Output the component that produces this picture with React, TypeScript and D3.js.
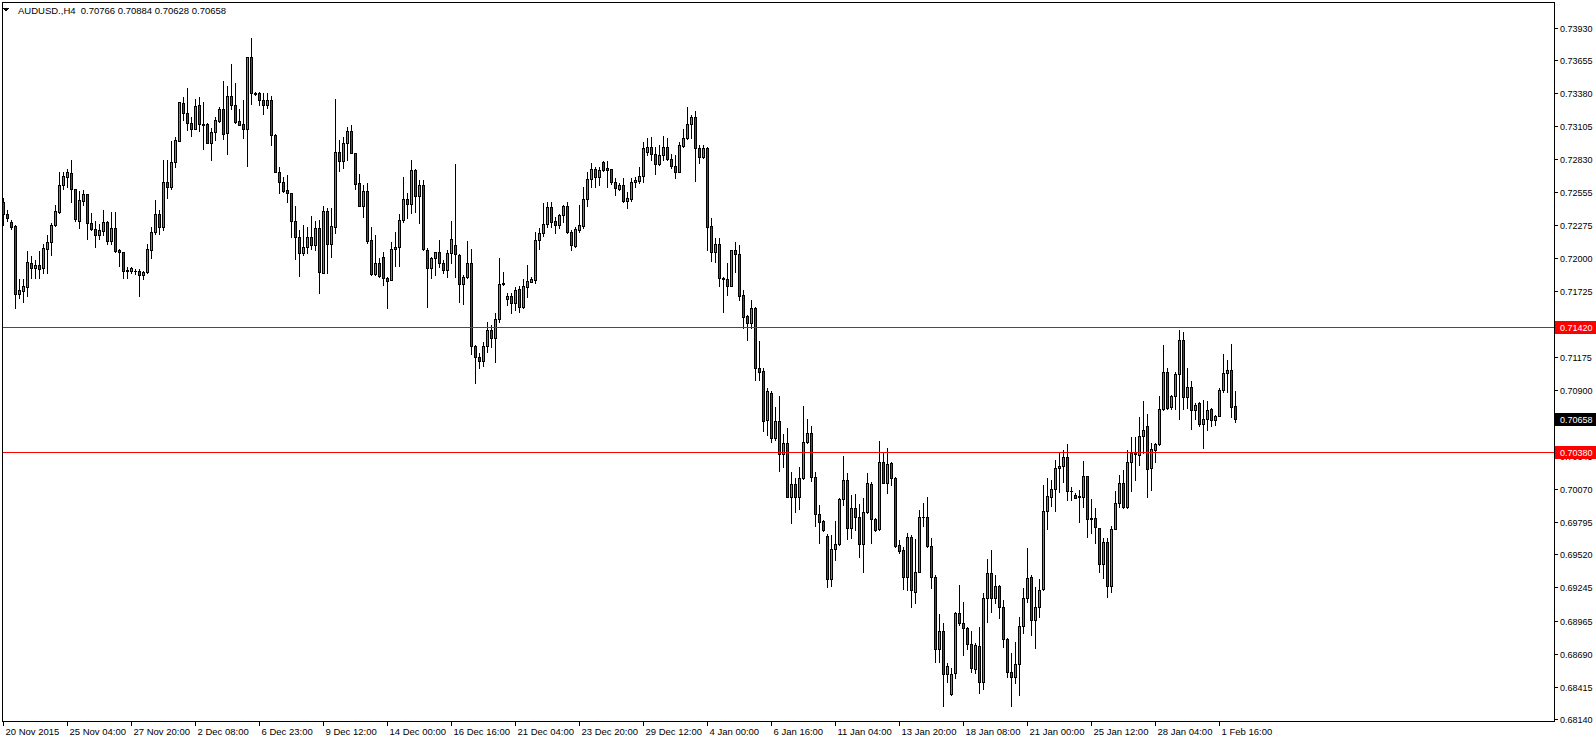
import React from "react";
import * as d3 from "d3";

// AUDUSD., H4 bars (bar 0 = leftmost)
const opens = [
  0.72473, 0.72367, 0.72303, 0.72269, 0.71700, 0.71728, 0.71762, 0.71957, 0.71920, 0.71943,
  0.71915, 0.72077, 0.72132, 0.72275, 0.72386, 0.72609, 0.72682, 0.72713, 0.72576, 0.72314,
  0.72481, 0.72534, 0.72291, 0.72241, 0.72191, 0.72230, 0.72303, 0.72146, 0.72252, 0.72068,
  0.72049, 0.71901, 0.71895, 0.71895, 0.71893, 0.71856, 0.71884, 0.72068, 0.72216, 0.72369,
  0.72263, 0.72634, 0.72598, 0.72802, 0.72977, 0.73295, 0.73212, 0.73134, 0.73083, 0.73279,
  0.73120, 0.73120, 0.72966, 0.73053, 0.73148, 0.73248, 0.73050, 0.73357, 0.73279, 0.73148,
  0.73120, 0.73083, 0.73680, 0.73379, 0.73380, 0.73326, 0.73279, 0.73320, 0.73028, 0.72724,
  0.72634, 0.72568, 0.72542, 0.72314, 0.72180, 0.72040, 0.72091, 0.72180, 0.72110, 0.72255,
  0.71879, 0.72395, 0.72116, 0.72264, 0.72888, 0.72816, 0.72961, 0.73061, 0.72877, 0.72626,
  0.72439, 0.72562, 0.72152, 0.71865, 0.71957, 0.72007, 0.71831, 0.71817, 0.72074, 0.72091,
  0.72319, 0.72495, 0.72450, 0.72738, 0.72520, 0.72612, 0.72068, 0.71915, 0.71999, 0.72049,
  0.71962, 0.71901, 0.72040, 0.72107, 0.72024, 0.71781, 0.71845, 0.71957, 0.71268, 0.71170,
  0.71142, 0.71268, 0.71399, 0.71335, 0.71488, 0.71785, 0.71656, 0.71683, 0.71628, 0.71739,
  0.71594, 0.71762, 0.71803, 0.71817, 0.72152, 0.72208, 0.72286, 0.72425, 0.72314, 0.72277,
  0.72361, 0.72436, 0.72222, 0.72100, 0.72236, 0.72269, 0.72492, 0.72659, 0.72743, 0.72682,
  0.72802, 0.72752, 0.72746, 0.72634, 0.72578, 0.72612, 0.72478, 0.72495, 0.72638, 0.72648,
  0.72687, 0.72891, 0.72927, 0.72869, 0.72790, 0.72860, 0.72927, 0.72827, 0.72774, 0.72724,
  0.72941, 0.73002, 0.73120, 0.73181, 0.72919, 0.72844, 0.72924, 0.72269, 0.72054, 0.72116,
  0.71837, 0.71823, 0.71770, 0.72068, 0.72032, 0.71692, 0.71516, 0.71455, 0.71580, 0.71078,
  0.71056, 0.70646, 0.70869, 0.70493, 0.70638, 0.70359, 0.70451, 0.70004, 0.70108, 0.69999,
  0.70158, 0.70459, 0.70534, 0.70166, 0.69857, 0.69801, 0.69678, 0.69313, 0.69564, 0.69606,
  0.69982, 0.70144, 0.69740, 0.69907, 0.69832, 0.69606, 0.69879, 0.70108, 0.69815, 0.69731,
  0.70297, 0.70122, 0.70283, 0.70158, 0.69600, 0.69558, 0.69330, 0.69664, 0.69209, 0.69376,
  0.69831, 0.69831, 0.69594, 0.69329, 0.68726, 0.68880, 0.68517, 0.68353, 0.68526, 0.69033,
  0.68950, 0.68902, 0.68768, 0.68562, 0.68754, 0.68456, 0.69153, 0.69362, 0.69153, 0.69256,
  0.69078, 0.68810, 0.68534, 0.68498, 0.68601, 0.68922, 0.69153, 0.69334, 0.68972, 0.69078,
  0.69229, 0.69884, 0.70004, 0.70065, 0.70241, 0.70260, 0.70338, 0.70054, 0.70018, 0.70006,
  0.70000, 0.70177, 0.69823, 0.69823, 0.69739, 0.69438, 0.69622, 0.69259, 0.69731, 0.69948,
  0.70115, 0.69920, 0.70291, 0.70360, 0.70352, 0.70514, 0.70595, 0.70241, 0.70394, 0.70442,
  0.70734, 0.71050, 0.70751, 0.70846, 0.71030, 0.71315, 0.70835, 0.70919, 0.70729, 0.70785,
  0.70609, 0.70651, 0.70734, 0.70645, 0.70682, 0.70896, 0.71039, 0.71064, 0.70766,
];

const highs = [
  0.72501, 0.72403, 0.72319, 0.72275, 0.71823, 0.71823, 0.72060, 0.72018, 0.71985, 0.72060,
  0.72116, 0.72194, 0.72297, 0.72445, 0.72721, 0.72724, 0.72743, 0.72821, 0.72580, 0.72565,
  0.72570, 0.72538, 0.72375, 0.72311, 0.72286, 0.72403, 0.72311, 0.72389, 0.72389, 0.72079,
  0.72052, 0.71929, 0.71929, 0.71912, 0.71907, 0.71895, 0.72119, 0.72264, 0.72487, 0.72403,
  0.72821, 0.72821, 0.72980, 0.73017, 0.73310, 0.73351, 0.73421, 0.73178, 0.73329, 0.73351,
  0.73307, 0.73128, 0.73092, 0.73184, 0.73262, 0.73482, 0.73440, 0.73625, 0.73463, 0.73248,
  0.73323, 0.73682, 0.73842, 0.73393, 0.73393, 0.73385, 0.73385, 0.73357, 0.73036, 0.72766,
  0.72682, 0.72696, 0.72545, 0.72436, 0.72236, 0.72277, 0.72264, 0.72353, 0.72314, 0.72319,
  0.72436, 0.72417, 0.72417, 0.73332, 0.72989, 0.73017, 0.73100, 0.73117, 0.72880, 0.72704,
  0.72612, 0.72626, 0.72264, 0.72194, 0.71999, 0.72054, 0.71845, 0.72138, 0.72222, 0.72367,
  0.72676, 0.72542, 0.72821, 0.72746, 0.72654, 0.72654, 0.72082, 0.72013, 0.72052, 0.72152,
  0.71985, 0.72068, 0.72314, 0.72788, 0.72032, 0.71859, 0.72146, 0.72077, 0.71270, 0.71204,
  0.71301, 0.71469, 0.71441, 0.71538, 0.71999, 0.71887, 0.71711, 0.71711, 0.71762, 0.71767,
  0.71823, 0.71943, 0.71845, 0.72222, 0.72249, 0.72464, 0.72473, 0.72473, 0.72347, 0.72369,
  0.72445, 0.72473, 0.72236, 0.72258, 0.72445, 0.72593, 0.72724, 0.72793, 0.72766, 0.72760,
  0.72813, 0.72813, 0.72749, 0.72668, 0.72626, 0.72673, 0.72551, 0.72673, 0.72682, 0.72765,
  0.72975, 0.73002, 0.73016, 0.72933, 0.72947, 0.73019, 0.73002, 0.72869, 0.72863, 0.72975,
  0.73078, 0.73262, 0.73198, 0.73231, 0.72947, 0.72947, 0.72933, 0.72333, 0.72166, 0.72166,
  0.71845, 0.71957, 0.72072, 0.72138, 0.72110, 0.71733, 0.71524, 0.71650, 0.71594, 0.71307,
  0.71078, 0.70911, 0.70889, 0.70758, 0.70847, 0.70526, 0.70582, 0.70208, 0.70158, 0.70255,
  0.70763, 0.70654, 0.70596, 0.70214, 0.69935, 0.69809, 0.69689, 0.69684, 0.69801, 0.69996,
  0.70345, 0.70200, 0.70018, 0.70027, 0.69943, 0.69991, 0.70200, 0.70130, 0.69829, 0.70470,
  0.70375, 0.70409, 0.70292, 0.70172, 0.69642, 0.69586, 0.69698, 0.69683, 0.69650, 0.69892,
  0.69948, 0.69998, 0.69655, 0.69348, 0.69022, 0.68950, 0.68615, 0.68573, 0.69042, 0.69265,
  0.69125, 0.68916, 0.68883, 0.68777, 0.68916, 0.69200, 0.69482, 0.69558, 0.69348, 0.69265,
  0.69139, 0.68819, 0.68699, 0.68791, 0.69000, 0.69242, 0.69572, 0.69348, 0.69251, 0.69312,
  0.70101, 0.70163, 0.70143, 0.70311, 0.70380, 0.70394, 0.70444, 0.70087, 0.70032, 0.70060,
  0.70305, 0.70180, 0.69982, 0.69912, 0.69742, 0.69655, 0.69655, 0.69758, 0.70054, 0.70185,
  0.70227, 0.70394, 0.70500, 0.70506, 0.70668, 0.70807, 0.70695, 0.70450, 0.70456, 0.70846,
  0.71273, 0.71078, 0.70854, 0.71050, 0.71398, 0.71384, 0.71078, 0.70974, 0.70785, 0.70799,
  0.70813, 0.70807, 0.70743, 0.70687, 0.70910, 0.71197, 0.71147, 0.71281, 0.70884,
];

const lows = [
  0.72277, 0.72314, 0.72241, 0.71580, 0.71664, 0.71636, 0.71686, 0.71831, 0.71831, 0.71831,
  0.71873, 0.71879, 0.72029, 0.72269, 0.72381, 0.72579, 0.72598, 0.72473, 0.72311, 0.72255,
  0.72445, 0.72158, 0.72236, 0.72091, 0.72158, 0.72194, 0.72118, 0.72118, 0.72054, 0.71937,
  0.71831, 0.71831, 0.71873, 0.71867, 0.71686, 0.71823, 0.71873, 0.72000, 0.72202, 0.72200,
  0.72236, 0.72501, 0.72576, 0.72760, 0.72977, 0.73156, 0.73072, 0.73022, 0.73080, 0.73067,
  0.72916, 0.72966, 0.72821, 0.72989, 0.73142, 0.73000, 0.72871, 0.73245, 0.73128, 0.73117,
  0.73008, 0.72771, 0.73290, 0.73362, 0.73281, 0.73203, 0.73260, 0.72947, 0.72720, 0.72548,
  0.72556, 0.72473, 0.72180, 0.71990, 0.71854, 0.72027, 0.72040, 0.72074, 0.72068, 0.71706,
  0.71879, 0.71879, 0.72012, 0.72208, 0.72732, 0.72757, 0.72821, 0.72877, 0.72581, 0.72439,
  0.72347, 0.72130, 0.71860, 0.71860, 0.71845, 0.71775, 0.71580, 0.71817, 0.71934, 0.71934,
  0.72305, 0.72333, 0.72375, 0.72389, 0.72291, 0.72068, 0.71589, 0.71831, 0.71859, 0.71923,
  0.71879, 0.71845, 0.71957, 0.71845, 0.71636, 0.71614, 0.71831, 0.71195, 0.70953, 0.71078,
  0.71098, 0.71218, 0.71260, 0.71134, 0.71469, 0.71775, 0.71608, 0.71538, 0.71566, 0.71552,
  0.71580, 0.71678, 0.71803, 0.71795, 0.72074, 0.72185, 0.72258, 0.72264, 0.72213, 0.72250,
  0.72305, 0.72213, 0.72068, 0.72091, 0.72222, 0.72250, 0.72436, 0.72593, 0.72593, 0.72612,
  0.72729, 0.72598, 0.72620, 0.72528, 0.72570, 0.72467, 0.72422, 0.72478, 0.72598, 0.72626,
  0.72634, 0.72863, 0.72821, 0.72701, 0.72779, 0.72821, 0.72821, 0.72757, 0.72673, 0.72718,
  0.72933, 0.72997, 0.73008, 0.72648, 0.72793, 0.72841, 0.72068, 0.71976, 0.71971, 0.71770,
  0.71547, 0.71692, 0.71766, 0.71887, 0.71650, 0.71413, 0.71315, 0.71413, 0.70981, 0.70981,
  0.70557, 0.70520, 0.70465, 0.70479, 0.70222, 0.70255, 0.70000, 0.69787, 0.69873, 0.69901,
  0.70152, 0.70451, 0.70138, 0.69759, 0.69614, 0.69720, 0.69251, 0.69257, 0.69475, 0.69600,
  0.69935, 0.69650, 0.69656, 0.69726, 0.69503, 0.69377, 0.69865, 0.69614, 0.69720, 0.69729,
  0.70116, 0.70038, 0.70102, 0.69586, 0.69530, 0.69229, 0.69224, 0.69084, 0.69111, 0.69376,
  0.69758, 0.69586, 0.69237, 0.68623, 0.68623, 0.68252, 0.68456, 0.68344, 0.68484, 0.68930,
  0.68679, 0.68726, 0.68540, 0.68526, 0.68364, 0.68392, 0.68958, 0.69042, 0.69117, 0.68986,
  0.68743, 0.68492, 0.68255, 0.68442, 0.68344, 0.68860, 0.69125, 0.68846, 0.68735, 0.69000,
  0.69223, 0.69731, 0.69926, 0.69887, 0.70046, 0.70129, 0.69976, 0.69976, 0.69990, 0.69795,
  0.69920, 0.69664, 0.69697, 0.69613, 0.69376, 0.69321, 0.69167, 0.69203, 0.69731, 0.69920,
  0.69906, 0.69906, 0.70054, 0.70143, 0.70269, 0.70366, 0.69998, 0.70060, 0.70297, 0.70436,
  0.70729, 0.70734, 0.70734, 0.70734, 0.70654, 0.70734, 0.70743, 0.70567, 0.70651, 0.70595,
  0.70408, 0.70562, 0.70598, 0.70603, 0.70679, 0.70882, 0.70882, 0.70673, 0.70628,
];

const closes = [
  0.72367, 0.72339, 0.72264, 0.71700, 0.71734, 0.71767, 0.71965, 0.71920, 0.71943, 0.71912,
  0.72082, 0.72132, 0.72275, 0.72392, 0.72609, 0.72685, 0.72718, 0.72576, 0.72330, 0.72487,
  0.72534, 0.72291, 0.72241, 0.72191, 0.72236, 0.72303, 0.72146, 0.72252, 0.72063, 0.72049,
  0.71890, 0.71890, 0.71918, 0.71890, 0.71856, 0.71884, 0.72077, 0.72219, 0.72369, 0.72263,
  0.72634, 0.72598, 0.72802, 0.72989, 0.73304, 0.73212, 0.73134, 0.73083, 0.73270, 0.73125,
  0.73118, 0.72966, 0.73053, 0.73156, 0.73248, 0.73042, 0.73357, 0.73279, 0.73142, 0.73117,
  0.73083, 0.73680, 0.73379, 0.73370, 0.73323, 0.73279, 0.73320, 0.73028, 0.72724, 0.72634,
  0.72565, 0.72542, 0.72314, 0.72174, 0.72040, 0.72091, 0.72180, 0.72110, 0.72255, 0.71887,
  0.72395, 0.72116, 0.72269, 0.72888, 0.72816, 0.72961, 0.73061, 0.72877, 0.72618, 0.72439,
  0.72562, 0.72144, 0.71865, 0.71957, 0.71854, 0.71831, 0.71812, 0.72074, 0.72091, 0.72319,
  0.72495, 0.72450, 0.72738, 0.72520, 0.72612, 0.72074, 0.71915, 0.71999, 0.72049, 0.71962,
  0.71901, 0.72040, 0.72158, 0.72032, 0.71781, 0.71845, 0.71957, 0.71268, 0.71170, 0.71142,
  0.71268, 0.71399, 0.71335, 0.71488, 0.71781, 0.71790, 0.71683, 0.71628, 0.71734, 0.71594,
  0.71767, 0.71809, 0.71823, 0.72152, 0.72208, 0.72286, 0.72425, 0.72305, 0.72277, 0.72361,
  0.72436, 0.72222, 0.72110, 0.72241, 0.72277, 0.72492, 0.72659, 0.72743, 0.72682, 0.72738,
  0.72737, 0.72740, 0.72634, 0.72584, 0.72612, 0.72478, 0.72500, 0.72640, 0.72651, 0.72687,
  0.72919, 0.72927, 0.72869, 0.72790, 0.72860, 0.72927, 0.72827, 0.72774, 0.72724, 0.72947,
  0.73002, 0.73120, 0.73181, 0.72919, 0.72849, 0.72924, 0.72263, 0.72054, 0.72116, 0.71831,
  0.71823, 0.71770, 0.72068, 0.72032, 0.71686, 0.71510, 0.71455, 0.71580, 0.71078, 0.71050,
  0.70640, 0.70889, 0.70493, 0.70638, 0.70359, 0.70451, 0.70004, 0.70108, 0.69999, 0.70158,
  0.70459, 0.70534, 0.70166, 0.69857, 0.69795, 0.69726, 0.69313, 0.69564, 0.69606, 0.69982,
  0.70144, 0.69740, 0.69907, 0.69832, 0.69606, 0.69879, 0.70116, 0.69815, 0.69726, 0.70297,
  0.70122, 0.70275, 0.70158, 0.69592, 0.69553, 0.69330, 0.69670, 0.69223, 0.69371, 0.69831,
  0.69830, 0.69594, 0.69329, 0.68726, 0.68880, 0.68517, 0.68590, 0.68517, 0.69028, 0.68950,
  0.68902, 0.68768, 0.68567, 0.68763, 0.68456, 0.69153, 0.69362, 0.69153, 0.69256, 0.69078,
  0.68810, 0.68534, 0.68498, 0.68601, 0.68922, 0.69153, 0.69326, 0.68972, 0.69078, 0.69223,
  0.69884, 0.70009, 0.70065, 0.70241, 0.70260, 0.70338, 0.70054, 0.70051, 0.69990, 0.70004,
  0.70177, 0.69817, 0.69820, 0.69747, 0.69438, 0.69622, 0.69259, 0.69731, 0.69948, 0.70115,
  0.69920, 0.70291, 0.70366, 0.70368, 0.70514, 0.70562, 0.70233, 0.70400, 0.70442, 0.70734,
  0.71044, 0.70748, 0.70846, 0.71030, 0.71315, 0.70835, 0.70919, 0.70729, 0.70771, 0.70609,
  0.70654, 0.70729, 0.70645, 0.70682, 0.70896, 0.71041, 0.71064, 0.70757, 0.70658,
];

// time labels, one every 16 bars
const timeLabels = [
  "20 Nov 2015", "25 Nov 04:00", "27 Nov 20:00", "2 Dec 08:00", "6 Dec 23:00",
  "9 Dec 12:00", "14 Dec 00:00", "16 Dec 16:00", "21 Dec 04:00", "23 Dec 20:00",
  "29 Dec 12:00", "4 Jan 00:00", "6 Jan 16:00", "11 Jan 04:00", "13 Jan 20:00",
  "18 Jan 08:00", "21 Jan 00:00", "25 Jan 12:00", "28 Jan 04:00", "1 Feb 16:00",
];
const labelStep = 16;

const priceLabels = [
  "0.73930", "0.73655", "0.73380", "0.73105", "0.72830", "0.72555", "0.72275",
  "0.72000", "0.71725", "0.71450", "0.71175", "0.70900", "0.70625", "0.70345",
  "0.70070", "0.69795", "0.69520", "0.69245", "0.68965", "0.68690", "0.68415", "0.68140",
];

const hLines = [0.7142, 0.7038];
const lastPrice = 0.70658;

const W = 1596;
const H = 744;
const frame = { left: 2, top: 2, right: 1554, bottom: 721 };
const UP = "#32b432";
const DOWN = "#ff0000";
const FONT = "'Liberation Sans', Arial, sans-serif";

const y = d3.scaleLinear().domain([0.6814, 0.7393]).range([719.4, 27.5]);
const x = d3.scaleLinear().domain([0, opens.length - 1]).range([3, 3 + 4 * (opens.length - 1)]);

function Candle({ i }: { i: number }) {
  const o = opens[i], c = closes[i];
  const hi = Math.max(highs[i], o, c);
  const lo = Math.min(lows[i], o, c);
  const cx = Math.round(x(i));
  const yh = Math.round(y(hi));
  const yl = Math.round(y(lo));
  const top = Math.round(y(Math.max(o, c)));
  const bot = Math.round(y(Math.min(o, c)));
  const fill = c > o ? UP : c < o ? DOWN : "#000";
  return (
    <g>
      <line x1={cx + 0.5} x2={cx + 0.5} y1={yh} y2={yl + 1} stroke="#000" strokeWidth={1} />
      {bot - top >= 1 ? (
        <rect x={cx - 0.5} y={top + 0.5} width={2} height={bot - top} fill={fill} stroke="#000" strokeWidth={1} />
      ) : (
        <line x1={cx - 1} x2={cx + 2} y1={top + 0.5} y2={top + 0.5} stroke="#000" strokeWidth={1} />
      )}
    </g>
  );
}

function PriceTag({ value, bg }: { value: number; bg: string }) {
  const yy = Math.round(y(value));
  return (
    <g>
      <rect x={frame.right + 1} y={yy - 6} width={W - frame.right - 1} height={13} fill={bg} />
      <text x={1560} y={yy + 0.5} fontSize={9} fontFamily={FONT} fill="#fff" dominantBaseline="central">
        {value.toFixed(5)}
      </text>
    </g>
  );
}

export default function App() {
  const idx = d3.range(opens.length);
  return (
    <svg
      width={W}
      height={H}
      style={{ position: "fixed", left: 0, top: 0, background: "#fff", display: "block" }}
      shapeRendering="crispEdges"
    >
      <rect x={0} y={0} width={W} height={H} fill="#fff" />

      {idx.map((i) => (
        <Candle key={i} i={i} />
      ))}

      {hLines.map((v) => (
        <line key={v} x1={frame.left} x2={frame.right} y1={Math.round(y(v)) + 0.5} y2={Math.round(y(v)) + 0.5} stroke="#ff0000" />
      ))}

      <rect
        x={frame.left + 0.5}
        y={frame.top + 0.5}
        width={frame.right - frame.left}
        height={frame.bottom - frame.top}
        fill="none"
        stroke="#000"
      />

      {/* price axis */}
      {priceLabels.map((s) => {
        const yy = Math.round(y(+s)) + 0.5;
        return (
          <g key={s}>
            <line x1={frame.right} x2={frame.right + 4} y1={yy} y2={yy} stroke="#000" />
            <text x={1560} y={yy} fontSize={9} fontFamily={FONT} fill="#000" dominantBaseline="central">
              {s}
            </text>
          </g>
        );
      })}

      {hLines.map((v) => (
        <PriceTag key={v} value={v} bg="#ff0000" />
      ))}
      <PriceTag value={lastPrice} bg="#000" />

      {/* time axis */}
      {timeLabels.map((s, k) => {
        const xx = Math.round(x(k * labelStep)) + 0.5;
        return (
          <g key={s}>
            <line x1={xx} x2={xx} y1={frame.bottom} y2={frame.bottom + 5} stroke="#000" />
            <text x={xx + 2} y={735} fontSize={9.5} fontFamily={FONT} fill="#000">
              {s}
            </text>
          </g>
        );
      })}

      {/* title */}
      <path d="M3,8 L9,8 L6,12 Z" fill="#000" />
      <text x={18} y={14} fontSize={9.5} fontFamily={FONT} fill="#000" style={{ whiteSpace: "pre" }}>
        {"AUDUSD.,H4  0.70766 0.70884 0.70628 0.70658"}
      </text>
    </svg>
  );
}
